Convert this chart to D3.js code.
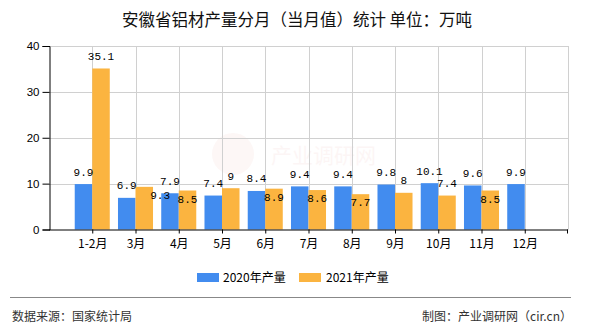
<!DOCTYPE html>
<html>
<head>
<meta charset="utf-8">
<script src="https://cdn.jsdelivr.net/npm/d3@7/dist/d3.min.js"></script>
<style>
  html, body { margin: 0; padding: 0; background: #fff; }
  svg { display: block; }
  text { font-family: "Noto Sans CJK SC", "Liberation Sans", sans-serif; }
  text.num { font-family: "Liberation Mono", "DejaVu Sans Mono", monospace; }
  text.tick { font-family: "Liberation Sans", sans-serif; }
</style>
</head>
<body>
<svg id="chart" width="590" height="330"></svg>
<script>
// Monthly aluminium output in Anhui province (10k tonnes)
const categories = ["1-2月", "3月", "4月", "5月", "6月", "7月", "8月", "9月", "10月", "11月", "12月"];
const values2020 = [9.9, 6.9, 7.9, 7.4, 8.4, 9.4, 9.4, 9.8, 10.1, 9.6, 9.9];
const values2021 = [35.1, 9.3, 8.5, 9, 8.9, 8.6, 7.7, 8, 7.4, 8.5, null];
const seriesNames = ["2020年产量", "2021年产量"];
const yTicks = [0, 10, 20, 30, 40];

const colors = ["#428cef", "#fbb440"];
const svg = d3.select("#chart");
const plotL = 49, plotR = 568, plotT = 46, plotB = 229.5;

const x = d3.scalePoint().domain(categories).range([plotL, plotR]).padding(1);
const y = d3.scaleLinear().domain([0, 40]).range([plotB, plotT]);
const step = x.step();
const barW = step * 0.405;

// title
svg.append("text").attr("x", 297).attr("y", 26).attr("text-anchor", "middle")
  .attr("font-size", 16.5).attr("fill", "#111")
  .text("安徽省铝材产量分月（当月值）统计 单位：万吨");

// faint watermark
const wm = svg.append("g").attr("opacity", 0.045);
wm.append("circle").attr("cx", 233).attr("cy", 154).attr("r", 21).attr("fill", "#d23a2a");
wm.append("text").attr("x", 271).attr("y", 163).attr("font-size", 21).attr("fill", "#d23a2a").text("产业调研网");

// grid
const grid = svg.append("g").attr("stroke", "#d0d0d0").attr("stroke-width", 1);
yTicks.filter(t => t > 0).forEach(t => {
  grid.append("line").attr("x1", plotL).attr("x2", plotR)
    .attr("y1", Math.round(y(t)) + 0.5).attr("y2", Math.round(y(t)) + 0.5);
});
const vLines = categories.map(c => x(c)).concat([plotR]);
vLines.forEach(v => {
  grid.append("line").attr("x1", Math.round(v) + 0.5).attr("x2", Math.round(v) + 0.5)
    .attr("y1", plotT).attr("y2", plotB);
});

// bars
const bars = svg.append("g");
categories.forEach((c, i) => {
  const cx = x(c);
  if (values2020[i] != null) {
    bars.append("rect").attr("x", cx - barW).attr("width", barW)
      .attr("y", y(values2020[i])).attr("height", plotB - y(values2020[i]))
      .attr("fill", colors[0]);
  }
  if (values2021[i] != null) {
    bars.append("rect").attr("x", cx).attr("width", barW)
      .attr("y", y(values2021[i])).attr("height", plotB - y(values2021[i]))
      .attr("fill", colors[1]);
  }
});

// axes
const yAxis = svg.append("g").attr("transform", `translate(${plotL + 0.5},0)`)
  .call(d3.axisLeft(y).tickValues(yTicks).tickSize(7).tickPadding(3));
yAxis.select(".domain").attr("stroke", "#000");
yAxis.selectAll("text").attr("class", "tick").attr("font-size", 11.5).attr("fill", "#000");

const xAxis = svg.append("g").attr("transform", `translate(0,${plotB})`)
  .call(d3.axisBottom(x).tickSize(4).tickPadding(6).tickSizeOuter(0));
xAxis.select(".domain").attr("d", `M${plotL},0.5H${plotR}`).attr("stroke", "#000");
xAxis.append("line").attr("x1", plotR - 0.5).attr("x2", plotR - 0.5).attr("y1", 0).attr("y2", 4).attr("stroke", "#000");
xAxis.selectAll("text").attr("font-size", 12).attr("fill", "#000");

// value labels, orange ones dodge blue ones when they would collide
const labelFont = 11, charW = 6.6;
const boxOf = (cx, base, txt) => {
  const w = String(txt).length * charW;
  return { x0: cx - w / 2, x1: cx + w / 2, y0: base - 10, y1: base + 2, w };
};
const hit = (a, b) => a.x0 < b.x1 && b.x0 < a.x1 && a.y0 < b.y1 && b.y0 < a.y1;
const labels = svg.append("g").attr("font-size", labelFont).attr("fill", "#000")
  .attr("text-anchor", "middle");
categories.forEach((c, i) => {
  const t = x(c);
  let blueBox = null;
  if (values2020[i] != null) {
    const bx = t - barW / 2, by = y(values2020[i]) - 8.5;
    blueBox = boxOf(bx, by, values2020[i]);
    labels.append("text").attr("class", "num").attr("x", bx).attr("y", by).text(values2020[i]);
  }
  if (values2021[i] != null) {
    let ox = t + barW / 2, oy = y(values2021[i]) - 8.5;
    let box = boxOf(ox, oy, values2021[i]);
    if (blueBox && hit(box, blueBox)) {
      oy = y(values2021[i]) + 12;
      box = boxOf(ox, oy, values2021[i]);
      if (hit(box, blueBox)) ox += box.w * 0.8;
    }
    labels.append("text").attr("class", "num").attr("x", ox).attr("y", oy).text(values2021[i]);
  }
});

// legend
const legend = svg.append("g");
[[197, 223], [299, 326]].forEach((p, i) => {
  legend.append("rect").attr("x", p[0]).attr("y", 273).attr("width", 22).attr("height", 9).attr("fill", colors[i]);
  legend.append("text").attr("x", p[1]).attr("y", 282).attr("font-size", 12).attr("fill", "#000").text(seriesNames[i]);
});

// footer
svg.append("line").attr("x1", 10).attr("x2", 571).attr("y1", 297.5).attr("y2", 297.5)
  .attr("stroke", "#888").attr("stroke-width", 1.2);
svg.append("text").attr("x", 12).attr("y", 321).attr("font-size", 12).attr("fill", "#333").text("数据来源：国家统计局");
svg.append("text").attr("x", 572).attr("y", 321).attr("text-anchor", "end").attr("font-size", 12).attr("fill", "#333").text("制图：产业调研网（cir.cn）");
</script>
</body>
</html>
